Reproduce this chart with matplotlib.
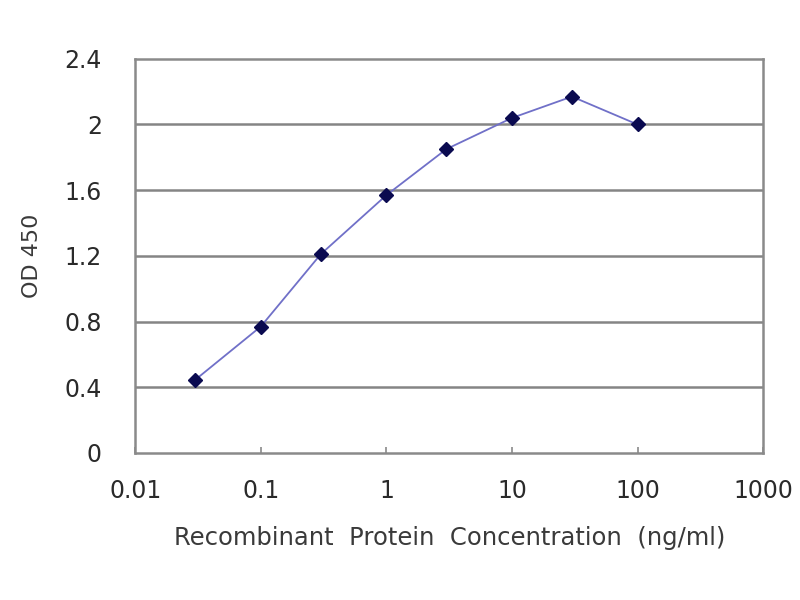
import matplotlib
matplotlib.use("Agg")
import matplotlib.pyplot as plt
from matplotlib.ticker import FixedLocator, FixedFormatter, NullLocator

conc = [0.03, 0.1, 0.3, 1, 3, 10, 30, 100]
od450 = [0.445, 0.77, 1.21, 1.57, 1.85, 2.04, 2.17, 2.00]
x_ticks = [0.01, 0.1, 1, 10, 100, 1000]
x_tick_labels = ["0.01", "0.1", "1", "10", "100", "1000"]
y_ticks = [0, 0.4, 0.8, 1.2, 1.6, 2.0, 2.4]
y_tick_labels = ["0", "0.4", "0.8", "1.2", "1.6", "2", "2.4"]

plt.rcParams['font.family'] = ['DejaVu Sans']
fig = plt.figure(figsize=(8, 6), dpi=100)
ax = fig.add_axes([0.169, 0.245, 0.785, 0.657])

ax.set_xscale('log')
ax.set_xlim(0.01, 1000)
ax.set_ylim(0, 2.4)
ax.xaxis.set_major_locator(FixedLocator(x_ticks))
ax.xaxis.set_major_formatter(FixedFormatter(x_tick_labels))
ax.xaxis.set_minor_locator(NullLocator())
ax.set_yticks(y_ticks)
ax.set_yticklabels(y_tick_labels)

for y in y_ticks[1:-1]:
    ax.axhline(y, color='#858585', lw=1.8, zorder=1)

ax.plot(conc, od450, color='#7070c8', lw=1.3, zorder=2)
ax.plot(conc, od450, linestyle='none', marker='D', ms=7.5, color='#0a0a50', zorder=3)

for s in ax.spines.values():
    s.set_color('#8a8a8a')
    s.set_linewidth(1.8)

ax.tick_params(axis='x', direction='in', length=4, width=1.2, color='#8a8a8a',
               labelsize=17, labelcolor='#2a2a2a', pad=19)
ax.tick_params(axis='y', length=0, labelsize=17, labelcolor='#2a2a2a', pad=24)

ax.set_xlabel('Recombinant  Protein  Concentration  (ng/ml)', fontsize=17.5,
              color='#3a3a3a', labelpad=16)
ax.set_ylabel('OD 450', fontsize=16, color='#3a3a3a', labelpad=16)

fig.savefig('out.png', dpi=100)
